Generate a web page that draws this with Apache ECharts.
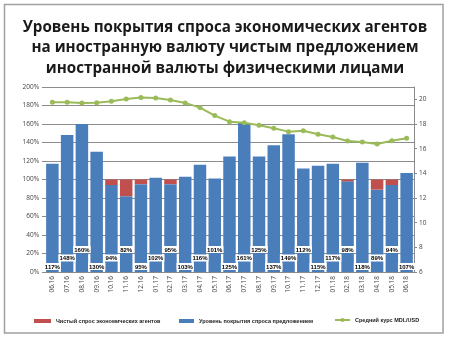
<!DOCTYPE html>
<html><head><meta charset="utf-8">
<script src="https://cdn.jsdelivr.net/npm/echarts@6/dist/echarts.min.js"></script>
<style>html,body{margin:0;padding:0;background:#fff}#c{width:450px;height:340px}</style>
</head><body><div id="c"></div>
<script>
const titleText = 'Уровень покрытия спроса экономических агентов\nна иностранную валюту чистым предложением\nиностранной валюты физическими лицами';
const categories = ['06.16','07.16','08.16','09.16','10.16','11.16','12.16','01.17','02.17','03.17','04.17','05.17','06.17','07.17','08.17','09.17','10.17','11.17','12.17','01.18','02.18','03.18','04.18','05.18','06.18'];
const coverage = [117,148,160,130,94,82,95,102,95,103,116,101,125,161,125,137,149,112,115,117,98,118,89,94,107];
const netDemand = [0,0,0,0,6,18,5,0,5,0,0,0,0,0,0,0,0,0,0,0,2,0,11,6,0];
const rate = [19.76,19.76,19.71,19.73,19.84,20.03,20.14,20.11,19.95,19.71,19.33,18.68,18.19,18.11,17.9,17.65,17.38,17.46,17.17,16.95,16.62,16.54,16.38,16.65,16.84];
const names = ['Чистый спрос экономических агентов','Уровень покрытия спроса предложением','Средний курс MDL/USD'];

const chart = echarts.init(document.getElementById('c'), null, {renderer:'canvas'});
const offs = [0,-8.5,-17];
const covData = coverage.map((v,i)=>({value:v,label:{offset:[0,offs[i%3]]}}));
const redData = netDemand.map(v=> v>0 ? v : null);
const legText = {fontSize:5.5,fontWeight:'bold',color:'#222',fontFamily:'Liberation Sans'};
chart.setOption({
  animation:false,
  textStyle:{fontFamily:'Open Sans'},
  title:{text:titleText,left:'center',top:12,textStyle:{fontFamily:'Open Sans',fontWeight:'bold',fontSize:15.2,lineHeight:20.5,color:'#1a1a1a'}},
  graphic:[{type:'rect',shape:{x:4.5,y:4.5,width:438.5,height:328.5},style:{fill:'none',stroke:'#a0a0a0',lineWidth:1.5},silent:true}],
  legend:[
    {top:313,left:29,itemWidth:17,itemHeight:4,data:[{name:names[0],icon:'rect'}],textStyle:legText},
    {top:313,left:174,itemWidth:15,itemHeight:4,data:[{name:names[1],icon:'rect'}],textStyle:legText},
    {top:312,left:329,itemWidth:15,itemHeight:5,data:[{name:names[2]}],textStyle:legText}
  ],
  grid:{left:45,right:36,top:87,bottom:68},
  xAxis:{type:'category',data:categories,
    axisLine:{lineStyle:{color:'#8a8a8a'}},axisTick:{show:false},
    axisLabel:{rotate:90,fontSize:6.5,color:'#444',margin:4,interval:0}},
  yAxis:[
    {type:'value',min:0,max:200,interval:20,
      axisLabel:{formatter:'{value}%',fontSize:6.5,color:'#444',margin:6},
      axisLine:{show:false},axisTick:{show:true,length:3,lineStyle:{color:'#8a8a8a'}},
      splitLine:{lineStyle:{color:'#8c8c8c',width:1}}},
    {type:'value',min:6,max:21,interval:2,position:'right',
      axisLabel:{fontSize:6.5,color:'#444',margin:5,showMaxLabel:false},
      axisLine:{show:true,lineStyle:{color:'#8a8a8a'}},axisTick:{show:true,length:3,lineStyle:{color:'#8a8a8a'}},
      splitLine:{show:false}}
  ],
  series:[
    {name:names[1],type:'bar',stack:'s',data:covData,barWidth:12.5,
      itemStyle:{color:'#4a7ebb'},
      label:{show:true,position:'insideBottom',distance:2,formatter:'{c}%',fontSize:6,fontWeight:'bold',color:'#000',
        backgroundColor:'#fff',padding:[1,1,0,1],fontFamily:'Liberation Sans'}},
    {name:names[0],type:'bar',stack:'s',data:redData,barWidth:12.5,itemStyle:{color:'#c0504d'}},
    {name:names[2],type:'line',yAxisIndex:1,data:rate,symbol:'circle',symbolSize:5,
      lineStyle:{color:'#9bbb59',width:2},itemStyle:{color:'#9bbb59'}}
  ]
});
</script></body></html>
